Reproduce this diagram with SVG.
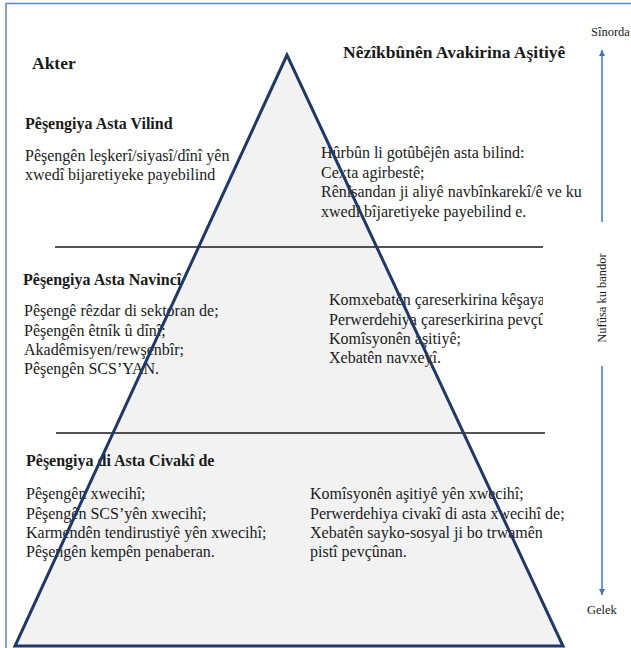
<svg xmlns="http://www.w3.org/2000/svg" width="631" height="648" viewBox="0 0 631 648">
<defs>
<style>
.t{font-family:"Liberation Serif","Times New Roman",serif;fill:#1a1a1a}
.b{font-size:16px}
.h{font-size:16px;font-weight:bold}
.big{font-size:17.5px;font-weight:bold}
.s{font-size:12.5px}
.sep{stroke:#1a1a1a;stroke-width:1.3}
.ax{stroke:#4472c4;stroke-width:1.5;fill:none}
</style>
<marker id="ah" viewBox="0 0 10 10" refX="10" refY="5" markerWidth="6" markerHeight="7" markerUnits="userSpaceOnUse" orient="auto">
<path d="M0,0 L10,5 L0,10 z" fill="#4472c4"/>
</marker>
<clipPath id="midclip"><rect x="0" y="240" width="543" height="200"/></clipPath>
</defs>
<rect x="0" y="0" width="631" height="648" fill="#ffffff"/>
<rect x="6" y="3.5" width="640" height="660" fill="none" stroke="#5b84d0" stroke-width="1.5"/>
<g id="pyramid">
<polygon points="287,55 15,646 563,646" fill="#f2f2f2"/>
</g>
<g id="connectors">
<line class="sep" x1="55" y1="247" x2="543" y2="247"/>
<line class="sep" x1="56" y1="433" x2="545" y2="433"/>
<line class="ax" x1="602" y1="222" x2="602" y2="50" marker-end="url(#ah)"/>
<line class="ax" x1="602" y1="366" x2="602" y2="595" marker-end="url(#ah)"/>
</g>
<g id="titles">
<text class="t big" x="32" y="69">Akter</text>
<text class="t big" x="343" y="58">Nêzîkbûnên Avakirina Aşitiyê</text>
<text class="t s" x="591" y="36">Sînorda</text>
<text class="t s" x="587" y="614">Gelek</text>
<text class="t s" transform="translate(606,298) rotate(-90)" text-anchor="middle">Nufûsa ku bandor</text>
</g>
<g id="top-left">
<text class="t h" x="25" y="129">Pêşengiya Asta Vilind</text>
<text class="t b" x="25" y="160.5">Pêşengên leşkerî/siyasî/dînî yên</text>
<text class="t b" x="25" y="180">xwedî bijaretiyeke payebilind</text>
</g>
<g id="top-right">
<text class="t b" x="321" y="158">Hûrbûn li gotûbêjên asta bilind:</text>
<text class="t b" x="321" y="177.5">Cexta agirbestê;</text>
<text class="t b" x="321" y="197">Rênîsandan ji aliyê navbînkarekî/ê ve ku</text>
<text class="t b" x="321" y="216.5">xwedî bîjaretiyeke payebilind e.</text>
</g>
<g id="middle-left">
<text class="t h" x="23" y="285">Pêşengiya Asta Navincî</text>
<text class="t b" x="24" y="316">Pêşengê rêzdar di sektoran de;</text>
<text class="t b" x="24" y="335.5">Pêşengên êtnîk û dînî;</text>
<text class="t b" x="24" y="355">Akadêmisyen/rewşenbîr;</text>
<text class="t b" x="24" y="374">Pêşengên SCS’YAN.</text>
</g>
<g id="middle-right" clip-path="url(#midclip)">
<text class="t b" x="329" y="305">Komxebatên çareserkirina kêşayan;</text>
<text class="t b" x="329" y="325">Perwerdehiya çareserkirina pevçûnan;</text>
<text class="t b" x="329" y="344">Komîsyonên aşitiyê;</text>
<text class="t b" x="329" y="363">Xebatên navxeyî.</text>
</g>
<g id="bottom-left">
<text class="t h" x="26" y="466">Pêşengiya di Asta Civakî de</text>
<text class="t b" x="26" y="499">Pêşengên xwecihî;</text>
<text class="t b" x="26" y="518.5">Pêşengên SCS’yên xwecihî;</text>
<text class="t b" x="26" y="537.5">Karmendên tendirustiyê yên xwecihî;</text>
<text class="t b" x="26" y="556.5">Pêşengên kempên penaberan.</text>
</g>
<g id="bottom-right">
<text class="t b" x="310" y="499">Komîsyonên aşitiyê yên xwecihî;</text>
<text class="t b" x="310" y="518.5">Perwerdehiya civakî di asta xwecihî de;</text>
<text class="t b" x="310" y="537.5">Xebatên sayko-sosyal ji bo trwamên</text>
<text class="t b" x="310" y="556.5">pistî pevçûnan.</text>
</g>
<g id="pyramid-outline">
<polygon points="287,55 15,646 563,646" fill="none" stroke="#203864" stroke-width="3" stroke-linejoin="miter"/>
</g>
</svg>
